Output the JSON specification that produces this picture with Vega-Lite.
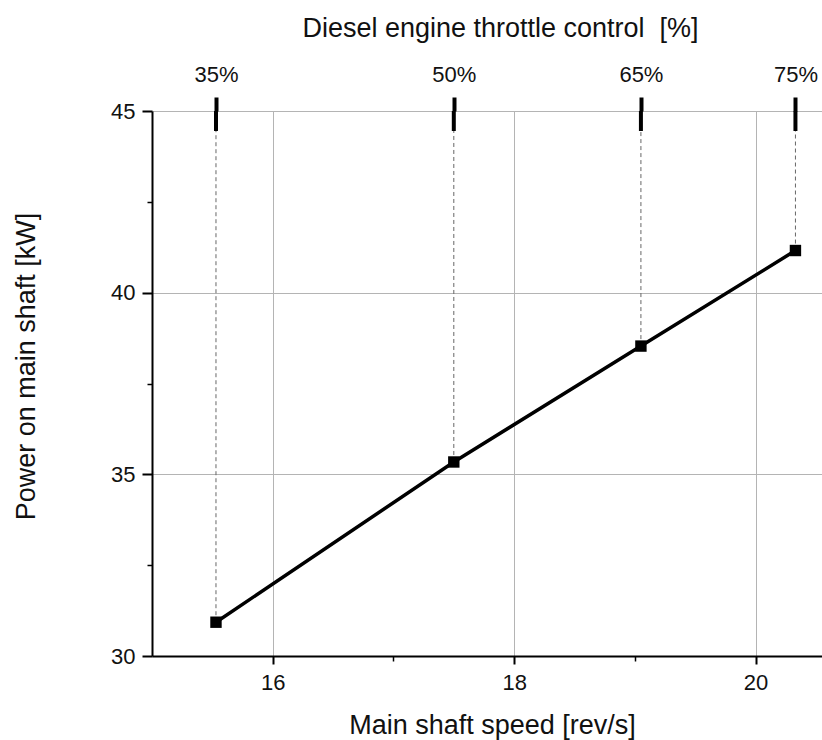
{
  "$schema": "https://vega.github.io/schema/vega-lite/v6.json",
  "width": 670,
  "height": 545,
  "autosize": "none",
  "padding": {"left": 152, "top": 111, "right": 0, "bottom": 84},
  "background": "white",
  "config": {
    "view": {"stroke": null},
    "font": "Liberation Sans",
    "axis": {"labelFont": "Liberation Sans", "titleFont": "Liberation Sans", "labelColor": "#111", "titleColor": "#111", "titleFontWeight": "normal"}
  },
  "data": {
    "values": [
      {"speed": 15.53, "power": 30.93, "throttle": "35%"},
      {"speed": 17.50, "power": 35.34, "throttle": "50%"},
      {"speed": 19.05, "power": 38.53, "throttle": "65%"},
      {"speed": 20.33, "power": 41.16, "throttle": "75%"}
    ]
  },
  "layer": [
    {
      "mark": {"type": "rule", "color": "#666", "strokeWidth": 1, "strokeDash": [4, 3]},
      "encoding": {
        "x": {"field": "speed", "type": "quantitative", "scale": {"domain": [15, 20.55], "nice": false, "zero": false},
          "axis": {"orient": "bottom", "values": [17, 19], "labels": false, "domain": false, "grid": false, "ticks": true, "tickSize": 5, "tickWidth": 1.5, "tickColor": "#000", "title": null}},
        "y": {"field": "power", "type": "quantitative", "scale": {"domain": [30, 45], "nice": false, "zero": false},
          "axis": {"orient": "left", "values": [32.5, 37.5, 42.5], "labels": false, "domain": false, "grid": false, "tickSize": 5, "tickWidth": 1.5, "tickColor": "#000", "title": null}},
        "y2": {"datum": 44.45}
      }
    },
    {
      "mark": {"type": "rule", "color": "#000", "strokeWidth": 4, "strokeCap": "butt"},
      "encoding": {
        "x": {"field": "speed", "type": "quantitative", "scale": {"domain": [15, 20.55], "nice": false, "zero": false},
          "axis": {"orient": "top", "values": [15.53, 17.5, 19.05, 20.33],
            "labelExpr": "datum.value < 16 ? '35%' : datum.value < 18 ? '50%' : datum.value < 20 ? '65%' : '75%'",
            "domain": false, "grid": false, "tickSize": 14, "tickWidth": 4, "tickCap": "butt", "tickColor": "#000",
            "labelFontSize": 22, "labelPadding": 11,
            "title": "Diesel engine throttle control\u00a0 [%]", "titleFontSize": 27, "titleX": 348, "titleY": -83, "titleBaseline": "middle", "titleAnchor": "middle", "titleAlign": "center"}},
        "y": {"datum": 44.45, "type": "quantitative", "scale": {"domain": [30, 45], "nice": false, "zero": false}, "axis": null},
        "y2": {"datum": 45}
      }
    },
    {
      "mark": {"type": "line", "color": "#000", "strokeWidth": 3.5},
      "encoding": {
        "x": {"field": "speed", "type": "quantitative", "scale": {"domain": [15, 20.55], "nice": false, "zero": false},
          "axis": {"orient": "bottom", "values": [16, 18, 20], "domain": true, "domainColor": "#000", "domainWidth": 2,
            "grid": true, "gridColor": "#b4b4b4", "gridWidth": 1, "tickSize": 8, "tickWidth": 2, "tickColor": "#000",
            "labelFontSize": 22, "labelPadding": 8,
            "title": "Main shaft speed [rev/s]", "titleFontSize": 27, "titleX": 340, "titleY": 69, "titleBaseline": "middle", "titleAnchor": "middle", "titleAlign": "center"}},
        "y": {"field": "power", "type": "quantitative", "scale": {"domain": [30, 45], "nice": false, "zero": false},
          "axis": {"orient": "left", "values": [30, 35, 40, 45], "domain": true, "domainColor": "#000", "domainWidth": 2,
            "grid": true, "gridColor": "#b4b4b4", "gridWidth": 1, "tickSize": 10, "tickWidth": 2, "tickColor": "#000",
            "labelFontSize": 22, "labelPadding": 7,
            "title": "Power on main shaft [kW]", "titleFontSize": 27, "titleX": -126, "titleY": 255, "titleBaseline": "middle", "titleAnchor": "middle", "titleAlign": "center", "titleAngle": -90}}
      }
    },
    {
      "mark": {"type": "point", "shape": "square", "filled": true, "color": "#000", "opacity": 1, "size": 130},
      "encoding": {
        "x": {"field": "speed", "type": "quantitative", "scale": {"domain": [15, 20.55], "nice": false, "zero": false}, "axis": null},
        "y": {"field": "power", "type": "quantitative", "scale": {"domain": [30, 45], "nice": false, "zero": false}, "axis": null}
      }
    }
  ],
  "resolve": {"axis": {"x": "independent", "y": "independent"}}
}
